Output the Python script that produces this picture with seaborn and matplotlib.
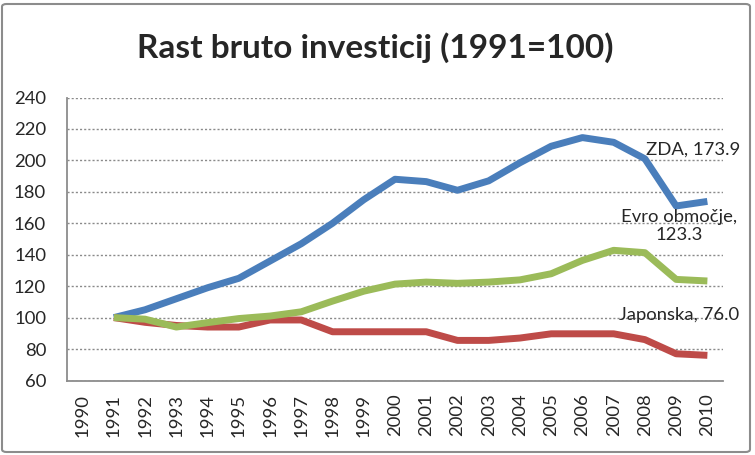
import pandas as pd
import seaborn as sns
import matplotlib.pyplot as plt
from matplotlib.patches import FancyBboxPatch

# Data (1991 = 100)
years = list(range(1990, 2011))
data_years = list(range(1991, 2011))
zda = [100, 105, 112, 119, 125, 136, 147, 160, 175, 188, 186.5, 181, 187, 198.5, 209, 214.5, 211.5, 201, 171, 173.9]
japonska = [100, 97, 95, 94, 94, 98.5, 98.5, 91, 91, 91, 91, 85.5, 85.5, 87, 89.7, 89.7, 89.7, 86, 77, 76.0]
evro = [100, 99, 94, 96.8, 99.4, 101, 103.7, 110.5, 116.8, 121.3, 122.6, 121.8, 122.6, 124, 127.9, 136.4, 142.8, 141.3, 124.3, 123.3]

series_names = ['ZDA', 'Japonska', 'Evro območje']
series_colors = ['#4A7EBB', '#BE4B48', '#9BBB59']

df = pd.DataFrame({
    'leto': data_years * 3,
    'indeks': zda + japonska + evro,
    'serija': [series_names[0]] * 20 + [series_names[1]] * 20 + [series_names[2]] * 20,
})

sns.set_style('white')
plt.rcParams['font.family'] = ['Lato', 'DejaVu Sans']

fig = plt.figure(figsize=(7.55, 4.55), dpi=100)
ax = fig.add_axes([67 / 755, (455 - 380.5) / 455, (723 - 67) / 755, (380.5 - 97.5) / 455])

sns.lineplot(data=df, x='leto', y='indeks', hue='serija', hue_order=series_names,
             palette=series_colors, linewidth=5, legend=False, ax=ax,
             solid_capstyle='butt', solid_joinstyle='round')

ax.set_xlim(1989.5, 2010.5)
ax.set_ylim(60, 240)
ax.set_xticks(years)
ax.set_xticklabels([str(y) for y in years], rotation=90, fontsize=13.3)
ax.set_yticks(range(60, 241, 20))
ax.tick_params(axis='y', labelsize=13.3, length=0, pad=15)
ax.tick_params(axis='x', length=0, pad=9.5)
ax.set_xlabel('')
ax.set_ylabel('')

ax.yaxis.grid(True, color='#8a8a8a', linewidth=1.0, linestyle=(0, (1.5, 1.5)))
ax.xaxis.grid(False)
ax.set_axisbelow(True)
for s in ['top', 'right']:
    ax.spines[s].set_visible(False)
for s in ['left', 'bottom']:
    ax.spines[s].set_color('#8c8c8c')
    ax.spines[s].set_linewidth(1.3)

# End-of-series labels
ax.annotate('ZDA, 173.9', xy=(2010, zda[-1]), xytext=(33, 52), textcoords='offset pixels',
            ha='right', va='center', fontsize=13.3, annotation_clip=False)
ax.annotate('Evro območje,\n123.3', xy=(2010, evro[-1]), xytext=(-28, 55), textcoords='offset pixels',
            ha='center', va='center', fontsize=13.3, linespacing=1.2, annotation_clip=False)
ax.annotate('Japonska, 76.0', xy=(2010, japonska[-1]), xytext=(32, 40), textcoords='offset pixels',
            ha='right', va='center', fontsize=13.3, annotation_clip=False)

fig.text(0.497, 0.872, 'Rast bruto investicij (1991=100)', ha='center', va='baseline',
         fontsize=24, fontweight='bold')

# Chart border
border = FancyBboxPatch((2 / 755, 3 / 455), 748 / 755, 448 / 455, transform=fig.transFigure,
                        boxstyle='round,pad=0,rounding_size=0.006', fill=False,
                        edgecolor='#8c8c8c', linewidth=1.5)
fig.patches.append(border)

fig.savefig('out.png', dpi=100)
